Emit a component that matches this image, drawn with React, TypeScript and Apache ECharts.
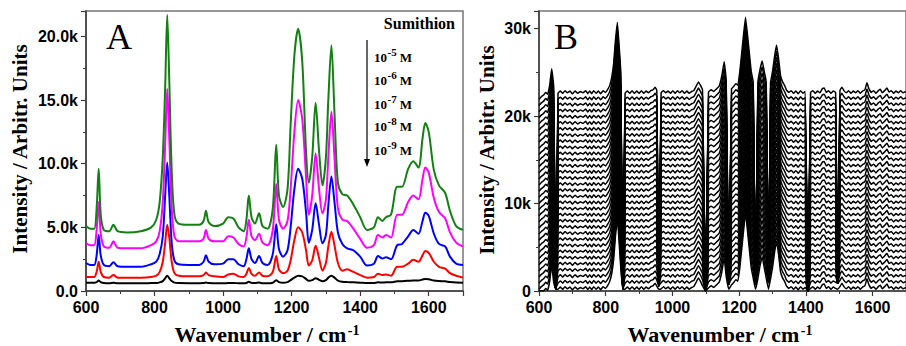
import React, { useEffect, useRef } from 'react';
import * as echarts from 'echarts';

// ---------- Panel A data ----------
const wnA = [600, 612, 624, 631, 637, 643, 652, 668, 680, 692, 720, 760, 790, 805, 815, 824, 831, 837, 843, 850, 858, 870, 900, 930, 943, 950, 958, 975, 1000, 1015, 1030, 1045, 1060, 1068, 1075, 1083, 1093, 1105, 1115, 1130, 1145, 1155, 1163, 1175, 1188, 1197, 1208, 1219, 1231, 1242, 1250, 1260, 1270, 1280, 1290, 1300, 1307, 1316, 1325, 1335, 1348, 1362, 1380, 1400, 1420, 1440, 1452, 1465, 1475, 1490, 1508, 1522, 1540, 1555, 1570, 1582, 1590, 1600, 1615, 1630, 1648, 1662, 1680, 1700];

const conc1e5 = [5100, 4900, 4900, 6500, 9600, 6000, 4800, 4700, 5200, 4700, 4600, 4700, 5000, 5600, 7000, 10500, 16000, 21700, 16500, 9500, 6000, 5300, 5200, 5200, 5500, 6300, 5400, 5100, 5300, 5800, 5700, 5000, 4700, 5600, 7500, 5800, 5300, 6100, 5100, 4900, 6500, 11500, 7500, 6600, 8000, 13000, 18500, 20600, 18000, 11000, 8500, 10500, 14800, 11000, 8300, 10500, 15000, 19300, 14000, 8500, 7600, 7500, 6800, 5800, 4800, 5000, 5800, 5500, 5800, 6000, 8200, 8200, 9600, 10200, 9700, 12000, 13200, 12500, 9500, 8300, 7700, 6300, 5100, 4800];

const conc1e6 = [3750, 3600, 3600, 4800, 7000, 4500, 3500, 3400, 3900, 3400, 3350, 3350, 3600, 3900, 4700, 7000, 11500, 15900, 12000, 6500, 4300, 3900, 3900, 3900, 4100, 4800, 4100, 3900, 3900, 4300, 4200, 3700, 3500, 4200, 5600, 4300, 4000, 4500, 3800, 3600, 4800, 8400, 5600, 4900, 5500, 8000, 12500, 15000, 13500, 9000, 6000, 7500, 10800, 8000, 6100, 7200, 10500, 14100, 10500, 6500, 5600, 5500, 4900, 4100, 3400, 3600, 4400, 4200, 4400, 4200, 6000, 6000, 7000, 7500, 7200, 8800, 9700, 9300, 7300, 6200, 5700, 4600, 3800, 3500];

const conc1e7 = [2200, 2050, 2050, 2800, 4400, 2800, 2050, 1950, 2250, 1950, 1900, 1900, 2100, 2300, 2900, 4300, 7500, 10100, 7500, 3800, 2400, 2100, 2050, 2050, 2300, 2800, 2300, 2100, 2150, 2500, 2500, 2100, 1950, 2500, 3350, 2500, 2200, 2750, 2200, 2050, 2900, 5250, 3300, 2700, 3200, 5000, 8000, 9600, 8800, 6200, 3800, 4800, 6900, 5200, 3750, 4400, 6700, 9000, 7000, 4600, 3700, 3350, 3200, 2700, 2000, 2150, 2750, 2550, 2650, 2500, 3600, 3700, 4300, 4800, 4500, 5500, 6150, 5900, 4500, 3700, 3500, 2700, 2150, 2050];

const conc1e8 = [1100, 1100, 1100, 1500, 2300, 1500, 1100, 1050, 1250, 1050, 1050, 1050, 1100, 1200, 1500, 2300, 3800, 5200, 4200, 2300, 1400, 1200, 1150, 1150, 1250, 1450, 1250, 1150, 1100, 1300, 1350, 1150, 1100, 1350, 1800, 1350, 1200, 1450, 1200, 1150, 1500, 2750, 1700, 1400, 1600, 2400, 4000, 5000, 4600, 3200, 2000, 2400, 3550, 2600, 1600, 2200, 3500, 4650, 3600, 2200, 1600, 1700, 1500, 1250, 1050, 1100, 1350, 1250, 1300, 1200, 1900, 1900, 2150, 2450, 2300, 2800, 3150, 3000, 2300, 1900, 1750, 1400, 1200, 1050];

const conc1e9 = [650, 650, 650, 700, 820, 700, 620, 600, 650, 600, 600, 600, 620, 630, 680, 780, 1000, 1200, 1000, 780, 660, 620, 610, 610, 620, 660, 620, 610, 600, 620, 630, 610, 600, 630, 720, 640, 620, 660, 610, 600, 650, 850, 700, 640, 700, 850, 1050, 1200, 1150, 950, 800, 850, 1000, 880, 760, 850, 1050, 1200, 1050, 820, 720, 700, 680, 650, 620, 630, 680, 660, 680, 680, 760, 770, 800, 830, 830, 900, 950, 930, 820, 780, 760, 700, 660, 650];

const concExponents = ['-5', '-6', '-7', '-8', '-9'];

// ---------- Panel B data ----------
const bWave = [
  600, 607, 614, 620, 626, 632, 638, 644, 657, 664,
  671, 678, 685, 693, 700, 708, 716, 724, 732, 740,
  746, 752, 758, 764, 771, 778, 785, 792, 799, 806,
  812, 818, 824, 829, 835, 840, 845, 858, 865, 872,
  879, 886, 893, 900, 907, 914, 921, 928, 935, 942,
  948, 953, 966, 973, 980, 987, 994, 1001, 1008, 1015,
  1022, 1029, 1036, 1043, 1050, 1057, 1064, 1071, 1078, 1084,
  1090, 1108, 1116, 1124, 1132, 1140, 1148, 1155, 1161, 1177,
  1184, 1190, 1196, 1202, 1210, 1219, 1228, 1236, 1242, 1256,
  1263, 1269, 1275, 1281, 1294, 1300, 1306, 1312, 1318, 1324,
  1330, 1336, 1342, 1349, 1356, 1363, 1370, 1377, 1384, 1391,
  1398, 1414, 1421, 1428, 1435, 1442, 1449, 1455, 1461, 1468,
  1475, 1482, 1489, 1502, 1508, 1514, 1521, 1528, 1535, 1542,
  1549, 1556, 1563, 1570, 1577, 1583, 1589, 1596, 1603, 1610,
  1617, 1623, 1629, 1636, 1643, 1649, 1656, 1663, 1670, 1677,
  1684, 1691, 1700,
];
const bRel = [
  -700, -400, -200, 100, -100, 900, 2800, 800, 0, 250,
  0, 300, 50, 250, -50, 250, 0, 200, 50, 300,
  -50, 250, -50, 300, 0, 250, -50, 300, 100, 450,
  900, 1800, 3500, 6000, 8100, 5500, 2500, 0, 250, 0,
  300, 0, 250, 0, 300, 0, 250, 50, 300, 400,
  700, 350, 50, 300, 50, 250, 0, 300, 0, 300,
  50, 300, 0, 250, 0, 200, 300, 800, 1300, 900,
  400, 150, 400, 200, 500, 800, 2000, 3600, 1500, 500,
  800, 1100, 900, 2500, 5500, 8700, 5500, 2500, 1300, 1200,
  2800, 3700, 2500, 1300, 1200, 2500, 4200, 5500, 4000, 2000,
  1300, 900, 350, 100, 300, 0, 250, -50, 300, 0,
  200, 100, 300, 0, 250, 50, 500, 600, 100, 300,
  0, 250, 100, 300, 700, 300, 50, 300, 0, 250,
  50, 300, 0, 250, 400, 1200, 500, 100, 300, 0,
  300, 450, 50, 300, 600, 150, 300, 0, 250, 50,
  300, 50, 200,
];
const bDipWave = [650, 851, 959, 1099, 1169, 1249, 1288, 1406, 1495];
const bDipFloor = [300, 200, 600, 0, 800, 800, 1100, 0, 900];
const bOffsets = [200, 900, 1600, 2300, 3000, 3700, 4400, 5100, 5800, 6500, 7200, 7900, 8600, 9300, 10000, 10700, 11400, 12100, 12800, 13500, 14200, 14900, 15600, 16300, 17000, 17700, 18400, 19100, 19800, 20500, 21200, 21900, 22600];

const SANS = '"Liberation Sans", Arial, sans-serif';
const SERIF = '"Liberation Serif", "Times New Roman", serif';

function buildTrace(off: number): number[][] {
  const pts: number[][] = [];
  bWave.forEach((x, i) => pts.push([x, Math.max(0, off + bRel[i])]));
  bDipWave.forEach((x, j) => pts.push([x, Math.min(bDipFloor[j], off)]));
  pts.sort((a, b) => a[0] - b[0]);
  return pts;
}

function measure(text: string, font: string): number {
  const c = document.createElement('canvas').getContext('2d');
  if (!c) return text.length * 10;
  c.font = font;
  return c.measureText(text).width;
}

export default function App() {
  const ref = useRef<HTMLDivElement>(null);
  useEffect(() => {
    const chart = echarts.init(ref.current!, null, { renderer: 'svg' });
    const axisCol = '#3a3a3a';
    const xAxisBase = (gi: number) => ({
      gridIndex: gi,
      type: 'value',
      min: 600,
      max: 1700,
      interval: 200,
      axisLine: { show: true, onZero: false, lineStyle: { color: axisCol, width: 1.5 } },
      axisTick: { show: true, length: 5, lineStyle: { color: axisCol, width: 1.2 } },
      minorTick: { show: true, splitNumber: 2, length: 3, lineStyle: { color: axisCol, width: 1 } },
      splitLine: { show: false },
      axisLabel: {
        showMaxLabel: false,
        margin: 8,
        color: '#000',
        fontFamily: SANS,
        fontWeight: 'bold',
        fontSize: 16,
        formatter: (v: number) => String(v),
      },
    });
    const aSeries = [
      { d: conc1e9, c: '#000000' },
      { d: conc1e8, c: '#ff0000' },
      { d: conc1e7, c: '#0000ff' },
      { d: conc1e6, c: '#ff00ff' },
      { d: conc1e5, c: '#138013' },
    ].map((s) => ({
      type: 'line',
      xAxisIndex: 0,
      yAxisIndex: 0,
      data: wnA.map((x, i) => [x, s.d[i]]),
      showSymbol: false,
      symbol: 'none',
      smooth: 0.3,
      lineStyle: { color: s.c, width: 2 },
      silent: true,
    }));
    const bSeries = bOffsets.map((off) => ({
      type: 'line',
      xAxisIndex: 1,
      yAxisIndex: 1,
      data: buildTrace(off),
      symbol: 'none',
      smooth: 0.1,
      lineStyle: { color: '#000', width: 1.5 },
      silent: true,
    }));

    // legend rows
    const mainFont = `bold 13px ${SERIF}`;
    const supFont = `bold 11px ${SERIF}`;
    const w10 = measure('10', mainFont);
    const concTexts: any[] = [];
    const rowBase = [64, 87, 111, 133, 157];
    concExponents.forEach((e, i) => {
      const b = rowBase[i];
      const xs = 374 + w10 + 0.5;
      const ws = measure(e, supFont);
      concTexts.push({ type: 'text', x: 374, y: b, style: { text: '10', font: mainFont, fill: '#000', textAlign: 'left', textVerticalAlign: 'bottom' } });
      concTexts.push({ type: 'text', x: xs, y: b - 7, style: { text: e, font: supFont, fill: '#000', textAlign: 'left', textVerticalAlign: 'bottom' } });
      concTexts.push({ type: 'text', x: xs + ws + 3, y: b, style: { text: 'M', font: mainFont, fill: '#000', textAlign: 'left', textVerticalAlign: 'bottom' } });
    });

    // x titles with superscript
    const titleFont = `bold 22px ${SERIF}`;
    const titleSupFont = `bold 14px ${SERIF}`;
    const wTitle = measure('Wavenumber / cm', titleFont);
    const wSup = measure('-1', titleSupFont);
    const xTitle = (center: number) => {
      const start = center - (wTitle + wSup + 1) / 2;
      return [
        { type: 'text', x: start, y: 334.5, style: { text: 'Wavenumber / cm', font: titleFont, fill: '#000', textAlign: 'left', textVerticalAlign: 'middle' } },
        { type: 'text', x: start + wTitle + 1, y: 330, style: { text: '-1', font: titleSupFont, fill: '#000', textAlign: 'left', textVerticalAlign: 'middle' } },
      ];
    };

    const option: any = {
      animation: false,
      backgroundColor: '#ffffff',
      grid: [
        { left: 86, top: 11, width: 377, height: 280, show: true, borderColor: '#777', borderWidth: 1.5, backgroundColor: 'transparent' },
        { left: 539, top: 11, width: 378, height: 280, show: true, borderColor: '#777', borderWidth: 1.5, backgroundColor: 'transparent' },
      ],
      xAxis: [xAxisBase(0), xAxisBase(1)],
      yAxis: [
        {
          gridIndex: 0,
          type: 'value',
          min: 0,
          max: 22000,
          interval: 5000,
          axisLine: { show: true, onZero: false, lineStyle: { color: axisCol, width: 1.5 } },
          axisTick: { show: true, length: 5, lineStyle: { color: axisCol, width: 1.2 } },
          minorTick: { show: true, splitNumber: 2, length: 3, lineStyle: { color: axisCol, width: 1 } },
          splitLine: { show: false },
          axisLabel: {
            showMaxLabel: false,
            margin: 8,
            color: '#000',
            fontFamily: SANS,
            fontWeight: 'bold',
            fontSize: 16,
            formatter: (v: number) => (v === 0 ? '0.0' : (v / 1000).toFixed(1) + 'k'),
          },
        },
        {
          gridIndex: 1,
          type: 'value',
          min: 0,
          max: 32000,
          interval: 10000,
          axisLine: { show: true, onZero: false, lineStyle: { color: axisCol, width: 1.5 } },
          axisTick: { show: true, length: 5, lineStyle: { color: axisCol, width: 1.2 } },
          minorTick: { show: true, splitNumber: 2, length: 3, lineStyle: { color: axisCol, width: 1 } },
          splitLine: { show: false },
          axisLabel: {
            showMaxLabel: false,
            margin: 8,
            color: '#000',
            fontFamily: SANS,
            fontWeight: 'bold',
            fontSize: 16,
            formatter: (v: number) => (v === 0 ? '0' : v / 1000 + 'k'),
          },
        },
      ],
      series: [...aSeries, ...bSeries],
      graphic: [
        { type: 'text', x: 106, y: 55, style: { text: 'A', font: `36px ${SERIF}`, fill: '#000', textAlign: 'left', textVerticalAlign: 'bottom' } },
        { type: 'text', x: 554, y: 55, style: { text: 'B', font: `36px ${SERIF}`, fill: '#000', textAlign: 'left', textVerticalAlign: 'bottom' } },
        { type: 'text', x: 455, y: 31, style: { text: 'Sumithion', font: `bold 16px ${SERIF}`, fill: '#000', textAlign: 'right', textVerticalAlign: 'bottom' } },
        ...concTexts,
        { type: 'line', shape: { x1: 367, y1: 40, x2: 367, y2: 161 }, style: { stroke: '#000', lineWidth: 1.2 } },
        { type: 'polygon', shape: { points: [[364, 159], [370, 159], [367, 167]] }, style: { fill: '#000' } },
        ...xTitle(267),
        ...xTitle(720),
        { type: 'text', x: 20, y: 149, rotation: Math.PI / 2, style: { text: 'Intensity / Arbitr. Units', font: `bold 21px ${SERIF}`, fill: '#000', textAlign: 'center', textVerticalAlign: 'middle' } },
        { type: 'text', x: 487, y: 150, rotation: Math.PI / 2, style: { text: 'Intensity / Arbitr. Units', font: `bold 21px ${SERIF}`, fill: '#000', textAlign: 'center', textVerticalAlign: 'middle' } },
      ],
    };
    chart.setOption(option);
    return () => chart.dispose();
  }, []);
  return <div ref={ref} style={{ position: 'absolute', left: 0, top: 0, width: 906, height: 346 }} />;
}
